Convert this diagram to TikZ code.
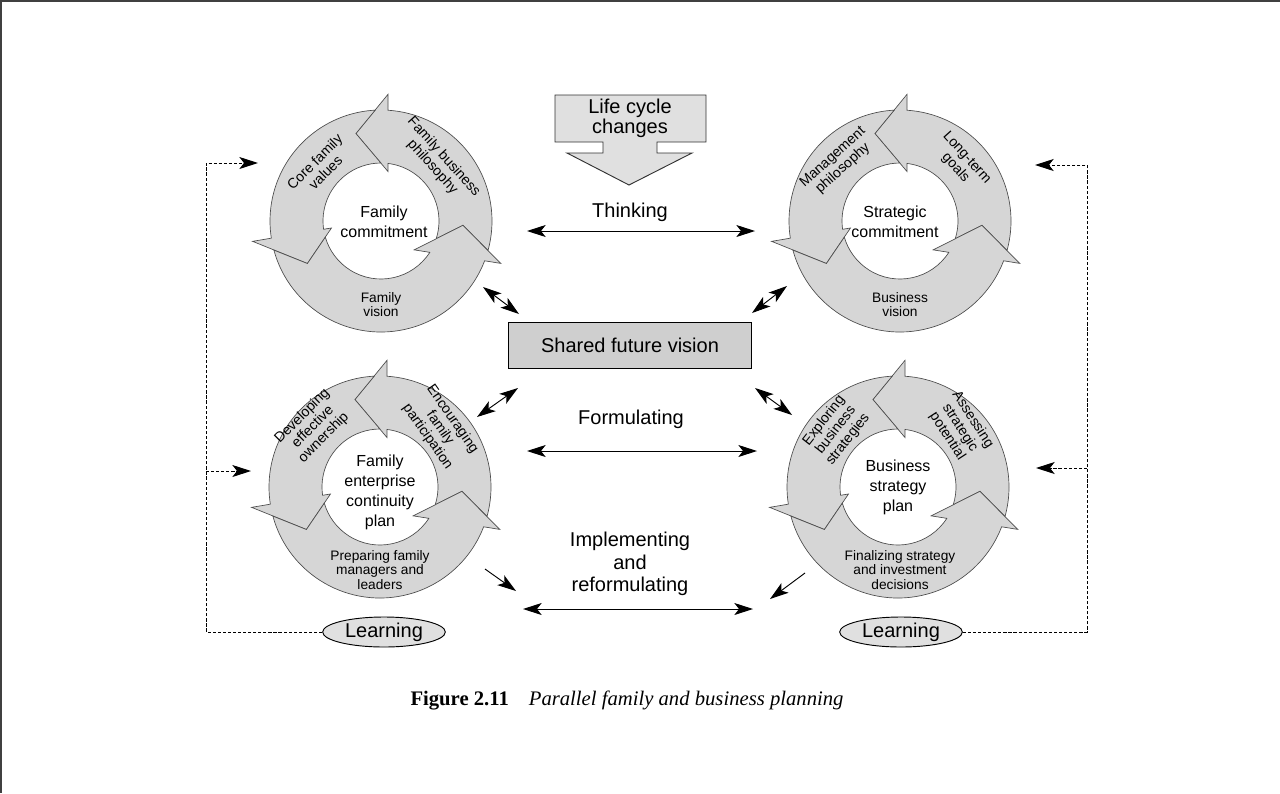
\documentclass[tikz,border=0pt]{standalone}
\usepackage{fontspec}
\setmainfont{Liberation Sans}
\newfontfamily\capfont{Liberation Serif}
\usetikzlibrary{arrows.meta,shapes.geometric}
\definecolor{ringgray}{gray}{0.84}
\definecolor{boxgray}{gray}{0.81}
\definecolor{palegray}{gray}{0.88}
\tikzset{ ring/.style = { fill = ringgray % arrow segment
, draw = black!70
, line width = 0.5pt
}
, rt/.style = { align = center % text on the ring
, inner sep = 0pt
, font = \fontsize{10.6}{11.4}\selectfont
}
, bt/.style = { align = center % text at the foot of the ring
, inner sep = 0pt
, font = \fontsize{10.3}{10.6}\selectfont
}
, ct/.style = { align = center % centre text
, inner sep = 0pt
, font = \fontsize{12}{15}\selectfont
}
, lt/.style = { align = center % large text
, inner sep = 0pt
, font = \fontsize{15}{17}\selectfont
}
}

\begin{document}
\begin{tikzpicture}[x=0.75pt, y=0.75pt, line width=0.7pt,
        >={Stealth[length=14pt, width=9pt, inset=3.5pt]},
        box_style/.style={draw, fill=boxgray, minimum width=182pt, minimum height=34.5pt, font=\fontsize{15}{17}\selectfont},
        learn_style/.style={ellipse, draw, fill=palegray, minimum width=92pt, minimum height=22.5pt, inner sep=0pt, font=\fontsize{15}{17}\selectfont},
        edge_style/.style={draw=black, ->},
        both_style/.style={draw=black, <->},
        loop_style/.style={draw=black, ->, line width=0.7pt, dash pattern=on 2.4pt off 1.4pt}]

        \useasboundingbox (0,0) rectangle (1280,-793);
        \fill[white] (0,0) rectangle (1280,-793);
        \draw[line width=3pt, black!75] (0,-793) -- (0,0) -- (1280,0);

        % the four cycles
        \foreach \cx/\cy in {381/221, 900/221, 380/487, 898/487}{
            \begin{scope}[shift={(\cx,-\cy)}]
            \draw[ring] (344.6:111) arc[start angle=344.6, end angle=446.4, radius=111] -- (86.8:127) -- (106:91) -- (82:50) -- (83.1:58) arc[start angle=83.1, end angle=-17.9, radius=58] -- (357:82) -- cycle;
            \draw[ring] (93:111) arc[start angle=93, end angle=188.9, radius=111] -- (189:130) -- (210:85) -- (188:50) -- (188.2:58) arc[start angle=188.2, end angle=90.1, radius=58] -- (106:91) -- cycle;
            \draw[ring] (195.2:111) arc[start angle=195.2, end angle=339, radius=111] -- (340.5:127) -- (357:82) -- (319:44) -- (327.3:58) arc[start angle=327.3, end angle=196.2, radius=58] -- (210:85) -- cycle;
            \end{scope}
        }

        \node[ct] (n1) at (384,-222) {Family\\commitment};
        \node[rt, rotate=45] (n2) at (320,-167) {Core family\\values};
        \node[rt, rotate=-48] (n3) at (438,-162) {Family business\\philosophy};
        \node[bt] (n4) at (381,-305) {Family\\vision};

        \node[ct] (n5) at (895,-222) {Strategic\\commitment};
        \node[rt, rotate=42] (n6) at (838,-163) {Management\\philosophy};
        \node[rt, rotate=-48] (n7) at (961,-163) {Long-term\\goals};
        \node[bt] (n8) at (900,-305) {Business\\vision};

        \node[ct] (n9) at (380,-492) {Family\\enterprise\\continuity\\plan};
        \node[rt, rotate=45] (n10) at (313,-427) {Developing\\effective\\ownership};
        \node[rt, rotate=-55] (n11) at (440,-428) {Encouraging\\family\\participation};
        \node[bt] (n12) at (380,-570) {Preparing family\\managers and\\leaders};

        \node[ct] (n13) at (898,-487) {Business\\strategy\\plan};
        \node[rt, rotate=52] (n14) at (836,-430) {Exploring\\business\\strategies};
        \node[rt, rotate=-57] (n15) at (960,-428) {Assessing\\strategic\\potential};
        \node[bt] (n16) at (900,-570) {Finalizing strategy\\and investment\\decisions};

        % middle column
        \draw[fill=palegray, draw=black!80] (555,-95) -- (706,-95) -- (706,-142) -- (657,-142) -- (657,-153) -- (692,-153) -- (629,-185) -- (567,-153) -- (603,-153) -- (603,-142) -- (555,-142) -- cycle;
        \node[lt, font=\fontsize{15}{15}\selectfont] (n17) at (630,-118) {Life cycle\\changes};
        \node[lt] (n18) at (630,-212) {Thinking};
        \node[box_style] (n19) at (630,-345) {Shared future vision};
        \node[lt] (n20) at (631,-419) {Formulating};
        \node[lt] (n21) at (630,-564) {Implementing\\and\\reformulating};
        \node[learn_style] (n22) at (384,-632) {Learning};
        \node[learn_style] (n23) at (901,-632) {Learning};
        \node[font=\capfont\fontsize{15.5}{18}\selectfont] (n24) at (627,-700) {\textbf{Figure 2.11}\hspace{15pt}\textit{Parallel family and business planning}};

        \coordinate (a1) at (527,-231);
        \coordinate (a2) at (755,-231);
        \coordinate (a3) at (527,-451);
        \coordinate (a4) at (757,-451);
        \coordinate (a5) at (523,-609);
        \coordinate (a6) at (753,-609);
        \draw [both_style] (a1) -- (a2);
        \draw [both_style] (a3) -- (a4);
        \draw [both_style] (a5) -- (a6);

        \coordinate (d1) at (483,-287);
        \coordinate (d2) at (519,-314);
        \coordinate (d3) at (752,-313);
        \coordinate (d4) at (787,-286);
        \coordinate (d5) at (477,-417);
        \coordinate (d6) at (518,-388);
        \coordinate (d7) at (755,-388);
        \coordinate (d8) at (792,-415);
        \draw [both_style] (d1) -- (d2);
        \draw [both_style] (d3) -- (d4);
        \draw [both_style] (d5) -- (d6);
        \draw [both_style] (d7) -- (d8);

        \coordinate (s1) at (485,-569);
        \coordinate (s2) at (516,-591);
        \coordinate (s3) at (805,-573);
        \coordinate (s4) at (770,-599);
        \draw [edge_style] (s1) -- (s2);
        \draw [edge_style] (s3) -- (s4);

        % learning loops
        \coordinate (f1) at (206,-632);
        \coordinate (f2) at (206,-163);
        \coordinate (f3) at (258,-163);
        \coordinate (f4) at (206,-471);
        \coordinate (f5) at (251,-471);
        \draw [loop_style] (n22.west) -- (f1) -- (f2) -- (f3);
        \draw [loop_style] (f4) -- (f5);
        \coordinate (g1) at (1087,-632);
        \coordinate (g2) at (1087,-165);
        \coordinate (g3) at (1035,-165);
        \coordinate (g4) at (1087,-468);
        \coordinate (g5) at (1036,-468);
        \draw [loop_style] (n23.east) -- (g1) -- (g2) -- (g3);
        \draw [loop_style] (g4) -- (g5);

\end{tikzpicture}
\end{document}
